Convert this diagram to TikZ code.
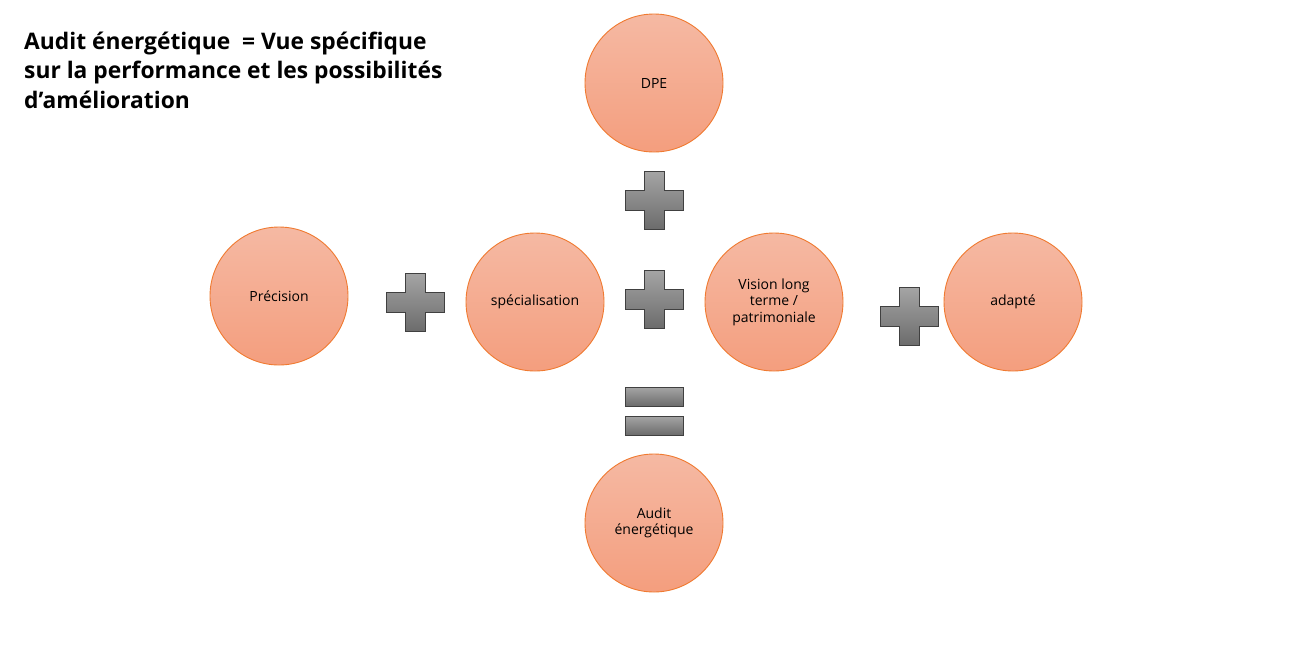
\documentclass[tikz,border=0pt]{standalone}
\usepackage{fontspec}
\setmainfont{Open Sans}
\begin{document}
\begin{tikzpicture}[x=1pt,y=-1pt,
  bubble/.style={circle, minimum size=138pt, inner sep=0pt, draw={rgb,255:red,240;green,122;blue,48}, line width=0.9pt,
    top color={rgb,255:red,245;green,185;blue,163}, bottom color={rgb,255:red,244;green,158;blue,126},
    font=\fontsize{14}{16.5}\selectfont, align=center, text=black},
  opsign/.style={draw={rgb,255:red,64;green,64;blue,64}, line width=0.8pt,
    top color={rgb,255:red,165;green,165;blue,165}, bottom color={rgb,255:red,108;green,108;blue,108}}
]
\useasboundingbox (0,0) rectangle (1314,662);
\fill[white] (0,0) rectangle (1314,662);

\node[anchor=base west, align=left, font=\fontsize{22.8}{29.5}\bfseries\selectfont, inner sep=0pt] (title) at (24,108)
 {Audit énergétique\ \ = Vue spécifique\\sur la performance et les possibilités\\d’amélioration};

\node[bubble] (dpe) at (654,83) {DPE};
\node[bubble] (prec) at (279,296) {Précision};
\node[bubble] (spec) at (535,302) {spécialisation};
\node[bubble] (vision) at (774,302) {Vision long\\terme /\\patrimoniale};
\node[bubble] (adapte) at (1013,302) {adapté};
\node[bubble] (audit) at (654,523) {Audit\\énergétique};

% plus signs: center (cx,cy), half-size 29, half-arm 10
\newcommand{\plussign}[2]{%
  \shade[opsign] (#1-10,#2-29) -- (#1+10,#2-29) -- (#1+10,#2-10) -- (#1+29,#2-10) -- (#1+29,#2+10) -- (#1+10,#2+10)
   -- (#1+10,#2+29) -- (#1-10,#2+29) -- (#1-10,#2+10) -- (#1-29,#2+10) -- (#1-29,#2-10) -- (#1-10,#2-10) -- cycle;}
\plussign{654}{200}
\plussign{415}{302}
\plussign{654}{299}
\plussign{909}{316}

\shade[opsign] (625,387) rectangle (683,406);
\shade[opsign] (625,416) rectangle (683,435);
\end{tikzpicture}
\end{document}
